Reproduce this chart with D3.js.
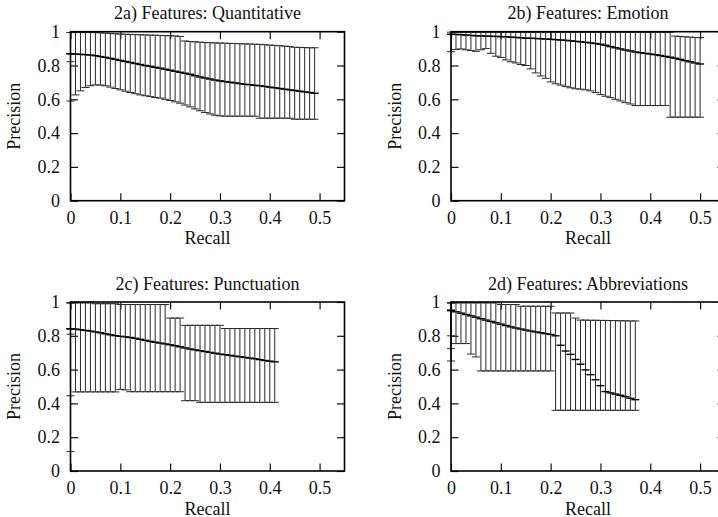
<!DOCTYPE html>
<html>
<head>
<meta charset="utf-8">
<script src="https://cdn.jsdelivr.net/npm/d3@7"></script>
<style>
    body { margin: 0; background: #fff; }
    svg { display: block; }
    text { font-family: "Liberation Serif", "Times New Roman", serif; font-size: 18px; fill: #111; }
</style>
</head>
<body>
<svg id="chart" width="718" height="517"></svg>
<script>
// 2a) Quantitative
const quantRecall = [0, 0, 0.01, 0.02, 0.03, 0.04, 0.05, 0.06, 0.07, 0.08, 0.09, 0.10, 0.11, 0.12, 0.13, 0.14, 0.15, 0.16, 0.17, 0.18, 0.19,
    0.20, 0.21, 0.22, 0.23, 0.24, 0.25, 0.26, 0.27, 0.28, 0.29, 0.30, 0.31, 0.32, 0.33, 0.34, 0.35, 0.36, 0.37, 0.38, 0.39,
    0.40, 0.41, 0.42, 0.43, 0.44, 0.45, 0.46, 0.47, 0.48, 0.49];
const quantMean = [0.870, 0.870, 0.868, 0.866, 0.864, 0.862, 0.858, 0.853, 0.848, 0.842, 0.836, 0.830, 0.824, 0.818, 0.812, 0.806, 0.800, 0.795, 0.789, 0.784, 0.778,
    0.772, 0.766, 0.760, 0.754, 0.748, 0.740, 0.732, 0.726, 0.720, 0.714, 0.709, 0.705, 0.701, 0.697, 0.693, 0.689, 0.686, 0.683, 0.680, 0.676,
    0.672, 0.668, 0.664, 0.660, 0.656, 0.652, 0.648, 0.644, 0.640, 0.636];
const quantLow = [0.590, 0.823, 0.626, 0.650, 0.670, 0.680, 0.685, 0.684, 0.680, 0.672, 0.664, 0.656, 0.648, 0.640, 0.633, 0.626, 0.621, 0.616, 0.611, 0.607, 0.600,
    0.593, 0.585, 0.577, 0.566, 0.555, 0.543, 0.532, 0.522, 0.513, 0.506, 0.502, 0.500, 0.500, 0.500, 0.500, 0.500, 0.500, 0.500, 0.488, 0.488,
    0.488, 0.488, 0.488, 0.488, 0.488, 0.482, 0.482, 0.482, 0.482, 0.482];
const quantHigh = [0.995, 0.995, 0.995, 0.995, 0.995, 0.995, 0.995, 0.993, 0.992, 0.990, 0.988, 0.986, 0.985, 0.984, 0.983, 0.982, 0.981, 0.980, 0.979, 0.978, 0.977,
    0.976, 0.975, 0.972, 0.945, 0.942, 0.940, 0.938, 0.936, 0.935, 0.934, 0.933, 0.932, 0.931, 0.930, 0.929, 0.928, 0.927, 0.926, 0.925, 0.923,
    0.921, 0.919, 0.917, 0.915, 0.912, 0.908, 0.907, 0.906, 0.905, 0.905];

// 2b) Emotion
const emoRecall = [0, 0.01, 0.02, 0.03, 0.04, 0.05, 0.06, 0.07, 0.08, 0.09, 0.10, 0.11, 0.12, 0.13, 0.14, 0.15, 0.16, 0.17, 0.18, 0.19,
    0.20, 0.21, 0.22, 0.23, 0.24, 0.25, 0.26, 0.27, 0.28, 0.29, 0.30, 0.31, 0.32, 0.33, 0.34, 0.35, 0.36, 0.37, 0.38, 0.39,
    0.40, 0.41, 0.42, 0.43, 0.44, 0.45, 0.46, 0.47, 0.48, 0.49, 0.50];
const emoMean = [0.985, 0.984, 0.982, 0.980, 0.978, 0.976, 0.975, 0.974, 0.973, 0.972, 0.971, 0.970, 0.968, 0.966, 0.964, 0.962, 0.961, 0.960, 0.958, 0.957,
    0.955, 0.953, 0.951, 0.949, 0.946, 0.943, 0.940, 0.937, 0.934, 0.930, 0.926, 0.920, 0.912, 0.905, 0.898, 0.892, 0.886, 0.880, 0.876, 0.872,
    0.868, 0.864, 0.859, 0.854, 0.849, 0.843, 0.836, 0.829, 0.822, 0.815, 0.809];
const emoLow = [0.882, 0.895, 0.898, 0.893, 0.888, 0.884, 0.893, 0.900, 0.872, 0.855, 0.848, 0.833, 0.822, 0.815, 0.806, 0.800, 0.780, 0.756, 0.738, 0.724,
    0.703, 0.692, 0.684, 0.675, 0.668, 0.662, 0.660, 0.656, 0.650, 0.640, 0.628, 0.618, 0.610, 0.600, 0.590, 0.580, 0.572, 0.563, 0.563, 0.563,
    0.563, 0.563, 0.563, 0.563, 0.494, 0.494, 0.494, 0.494, 0.494, 0.494, 0.494];
const emoHigh = [0.997, 0.997, 0.997, 0.997, 0.997, 0.997, 0.997, 0.997, 0.997, 0.997, 0.997, 0.997, 0.997, 0.997, 0.997, 0.997, 0.997, 0.997, 0.997, 0.997,
    0.997, 0.997, 0.997, 0.997, 0.997, 0.997, 0.997, 0.997, 0.997, 0.997, 0.997, 0.997, 0.997, 0.997, 0.997, 0.997, 0.997, 0.997, 0.997, 0.997,
    0.997, 0.997, 0.997, 0.997, 0.997, 0.974, 0.972, 0.970, 0.968, 0.966, 0.965];

// 2c) Punctuation
const punctRecall = [0, 0, 0, 0.01, 0.02, 0.03, 0.04, 0.05, 0.06, 0.07, 0.08, 0.09, 0.10, 0.11, 0.12, 0.13, 0.14, 0.15, 0.16, 0.17, 0.18, 0.19,
    0.20, 0.21, 0.22, 0.23, 0.24, 0.25, 0.26, 0.27, 0.28, 0.29, 0.30, 0.31, 0.32, 0.33, 0.34, 0.35, 0.36, 0.37, 0.38, 0.39,
    0.40, 0.41];
const punctMean = [0.842, 0.842, 0.842, 0.840, 0.836, 0.832, 0.828, 0.823, 0.818, 0.812, 0.806, 0.801, 0.797, 0.794, 0.790, 0.785, 0.779, 0.773, 0.767, 0.762, 0.757, 0.752,
    0.747, 0.741, 0.735, 0.728, 0.722, 0.717, 0.712, 0.707, 0.702, 0.697, 0.692, 0.688, 0.684, 0.680, 0.676, 0.672, 0.668, 0.664, 0.659, 0.654,
    0.650, 0.646];
const punctLow = [0.445, 0.810, 0.115, 0.468, 0.468, 0.468, 0.468, 0.468, 0.468, 0.468, 0.468, 0.468, 0.483, 0.480, 0.469, 0.469, 0.469, 0.469, 0.469, 0.469, 0.469, 0.469,
    0.469, 0.469, 0.469, 0.416, 0.416, 0.416, 0.406, 0.406, 0.406, 0.406, 0.406, 0.406, 0.406, 0.406, 0.406, 0.406, 0.406, 0.406, 0.406, 0.406,
    0.406, 0.406];
const punctHigh = [0.995, 0.995, 0.995, 0.995, 0.995, 0.995, 0.995, 0.990, 0.990, 0.990, 0.990, 0.990, 0.985, 0.985, 0.985, 0.985, 0.985, 0.985, 0.985, 0.985, 0.985, 0.985,
    0.905, 0.905, 0.905, 0.862, 0.862, 0.862, 0.862, 0.862, 0.862, 0.862, 0.862, 0.843, 0.843, 0.843, 0.843, 0.843, 0.843, 0.843, 0.843, 0.843,
    0.843, 0.843];

// 2d) Abbreviations
const abbrRecall = [0, 0, 0, 0.01, 0.02, 0.03, 0.04, 0.05, 0.06, 0.07, 0.08, 0.09, 0.10, 0.11, 0.12, 0.13, 0.14, 0.15, 0.16, 0.17, 0.18, 0.19,
    0.20, 0.21, 0.22, 0.23, 0.24, 0.25, 0.26, 0.27, 0.28, 0.29, 0.30, 0.31, 0.32, 0.33, 0.34, 0.35, 0.36, 0.37];
const abbrMean = [0.950, 0.950, 0.950, 0.942, 0.934, 0.926, 0.918, 0.910, 0.901, 0.893, 0.885, 0.877, 0.869, 0.861, 0.853, 0.846, 0.840, 0.834, 0.828, 0.823, 0.818, 0.813,
    0.808, 0.800, 0.744, 0.710, 0.690, 0.660, 0.632, 0.598, 0.570, 0.540, 0.505, 0.470, 0.462, 0.455, 0.448, 0.440, 0.430, 0.422];
const abbrLow = [0.651, 0.800, 0.724, 0.754, 0.754, 0.754, 0.692, 0.675, 0.592, 0.592, 0.592, 0.592, 0.592, 0.592, 0.592, 0.592, 0.592, 0.592, 0.592, 0.592, 0.592, 0.592,
    0.592, 0.359, 0.359, 0.359, 0.359, 0.359, 0.359, 0.359, 0.359, 0.359, 0.359, 0.359, 0.359, 0.359, 0.359, 0.359, 0.359, 0.359];
const abbrHigh = [0.995, 0.995, 0.995, 0.995, 0.995, 0.995, 0.995, 0.995, 0.995, 0.995, 0.995, 0.995, 0.985, 0.985, 0.985, 0.985, 0.975, 0.975, 0.975, 0.975, 0.975, 0.975,
    0.975, 0.935, 0.935, 0.935, 0.935, 0.905, 0.893, 0.893, 0.892, 0.892, 0.891, 0.891, 0.890, 0.890, 0.889, 0.889, 0.888, 0.888];

const xTicks = [0, 0.1, 0.2, 0.3, 0.4, 0.5];
const yTicks = [0, 0.2, 0.4, 0.6, 0.8, 1];

const plotWidth = 274;
const plotHeight = 169;
const tickLen = 7.5;
const capHalf = 4;

const panels = [
    {title: '2a) Features: Quantitative', recall: quantRecall, mean: quantMean, low: quantLow, high: quantHigh, left: 70.5, top: 31.7},
    {title: '2b) Features: Emotion', recall: emoRecall, mean: emoMean, low: emoLow, high: emoHigh, left: 451, top: 31.7},
    {title: '2c) Features: Punctuation', recall: punctRecall, mean: punctMean, low: punctLow, high: punctHigh, left: 70.5, top: 302},
    {title: '2d) Features: Abbreviations', recall: abbrRecall, mean: abbrMean, low: abbrLow, high: abbrHigh, left: 451, top: 302}
];

const svg = d3.select('#chart');

function styleAxis(g) {
    g.select('.domain').remove();
    g.attr('font-family', null).attr('font-size', null);
    g.selectAll('line').attr('stroke', '#111').attr('stroke-width', 1.2);
}

function drawPanel(p) {
    const g = svg.append('g').attr('transform', `translate(${p.left},${p.top})`);

    const x = d3.scaleLinear().domain([0, 0.55]).range([0, plotWidth]);
    const y = d3.scaleLinear().domain([0, 1]).range([plotHeight, 0]);

    const points = p.recall.map((r, i) => ({r: r, mean: p.mean[i], low: p.low[i], high: p.high[i]}));

    // axes, ticks pointing inwards on all four sides
    g.append('g')
        .attr('transform', `translate(0,${plotHeight})`)
        .call(d3.axisBottom(x).tickValues(xTicks).tickFormat(d3.format('')).tickSizeInner(-tickLen).tickSizeOuter(0).tickPadding(10.7))
        .call(styleAxis);
    g.append('g')
        .call(d3.axisTop(x).tickValues(xTicks).tickFormat('').tickSizeInner(-tickLen).tickSizeOuter(0))
        .call(styleAxis);
    g.append('g')
        .call(d3.axisLeft(y).tickValues(yTicks).tickFormat(d3.format('')).tickSizeInner(-tickLen).tickSizeOuter(0).tickPadding(10.5))
        .call(styleAxis);
    g.append('g')
        .attr('transform', `translate(${plotWidth},0)`)
        .call(d3.axisRight(y).tickValues(yTicks).tickFormat('').tickSizeInner(-tickLen).tickSizeOuter(0))
        .call(styleAxis);

    // error bars
    const bars = g.append('g')
        .attr('stroke', '#2a2a2a')
        .attr('stroke-width', 1)
        .attr('fill', 'none');

    bars.selectAll('line.bar')
        .data(points)
        .join('line')
        .attr('class', 'bar')
        .attr('x1', d => x(d.r))
        .attr('x2', d => x(d.r))
        .attr('y1', d => y(d.low))
        .attr('y2', d => y(d.high));

    bars.selectAll('line.cap')
        .data(points.flatMap(d => [{r: d.r, v: d.low}, {r: d.r, v: d.high}]))
        .join('line')
        .attr('class', 'cap')
        .attr('x1', d => x(d.r) - capHalf)
        .attr('x2', d => x(d.r) + capHalf)
        .attr('y1', d => y(d.v))
        .attr('y2', d => y(d.v));

    // mean precision drawn as "+" points
    g.append('g')
        .attr('stroke', '#000')
        .attr('stroke-width', 1.4)
        .selectAll('line')
        .data(points)
        .join('line')
        .attr('x1', d => x(d.r) - capHalf)
        .attr('x2', d => x(d.r) + capHalf)
        .attr('y1', d => y(d.mean))
        .attr('y2', d => y(d.mean));

    // frame
    g.append('rect')
        .attr('width', plotWidth)
        .attr('height', plotHeight)
        .attr('fill', 'none')
        .attr('stroke', '#000')
        .attr('stroke-width', 1.6);

    g.append('text')
        .attr('x', plotWidth / 2)
        .attr('y', -12.5)
        .attr('text-anchor', 'middle')
        .text(p.title);

    g.append('text')
        .attr('x', plotWidth / 2)
        .attr('y', plotHeight + 43.5)
        .attr('text-anchor', 'middle')
        .text('Recall');

    g.append('text')
        .attr('transform', `translate(-50.5,${plotHeight / 2}) rotate(-90)`)
        .attr('text-anchor', 'middle')
        .text('Precision');
}

for (let p of panels) {
    drawPanel(p);
}
</script>
</body>
</html>
